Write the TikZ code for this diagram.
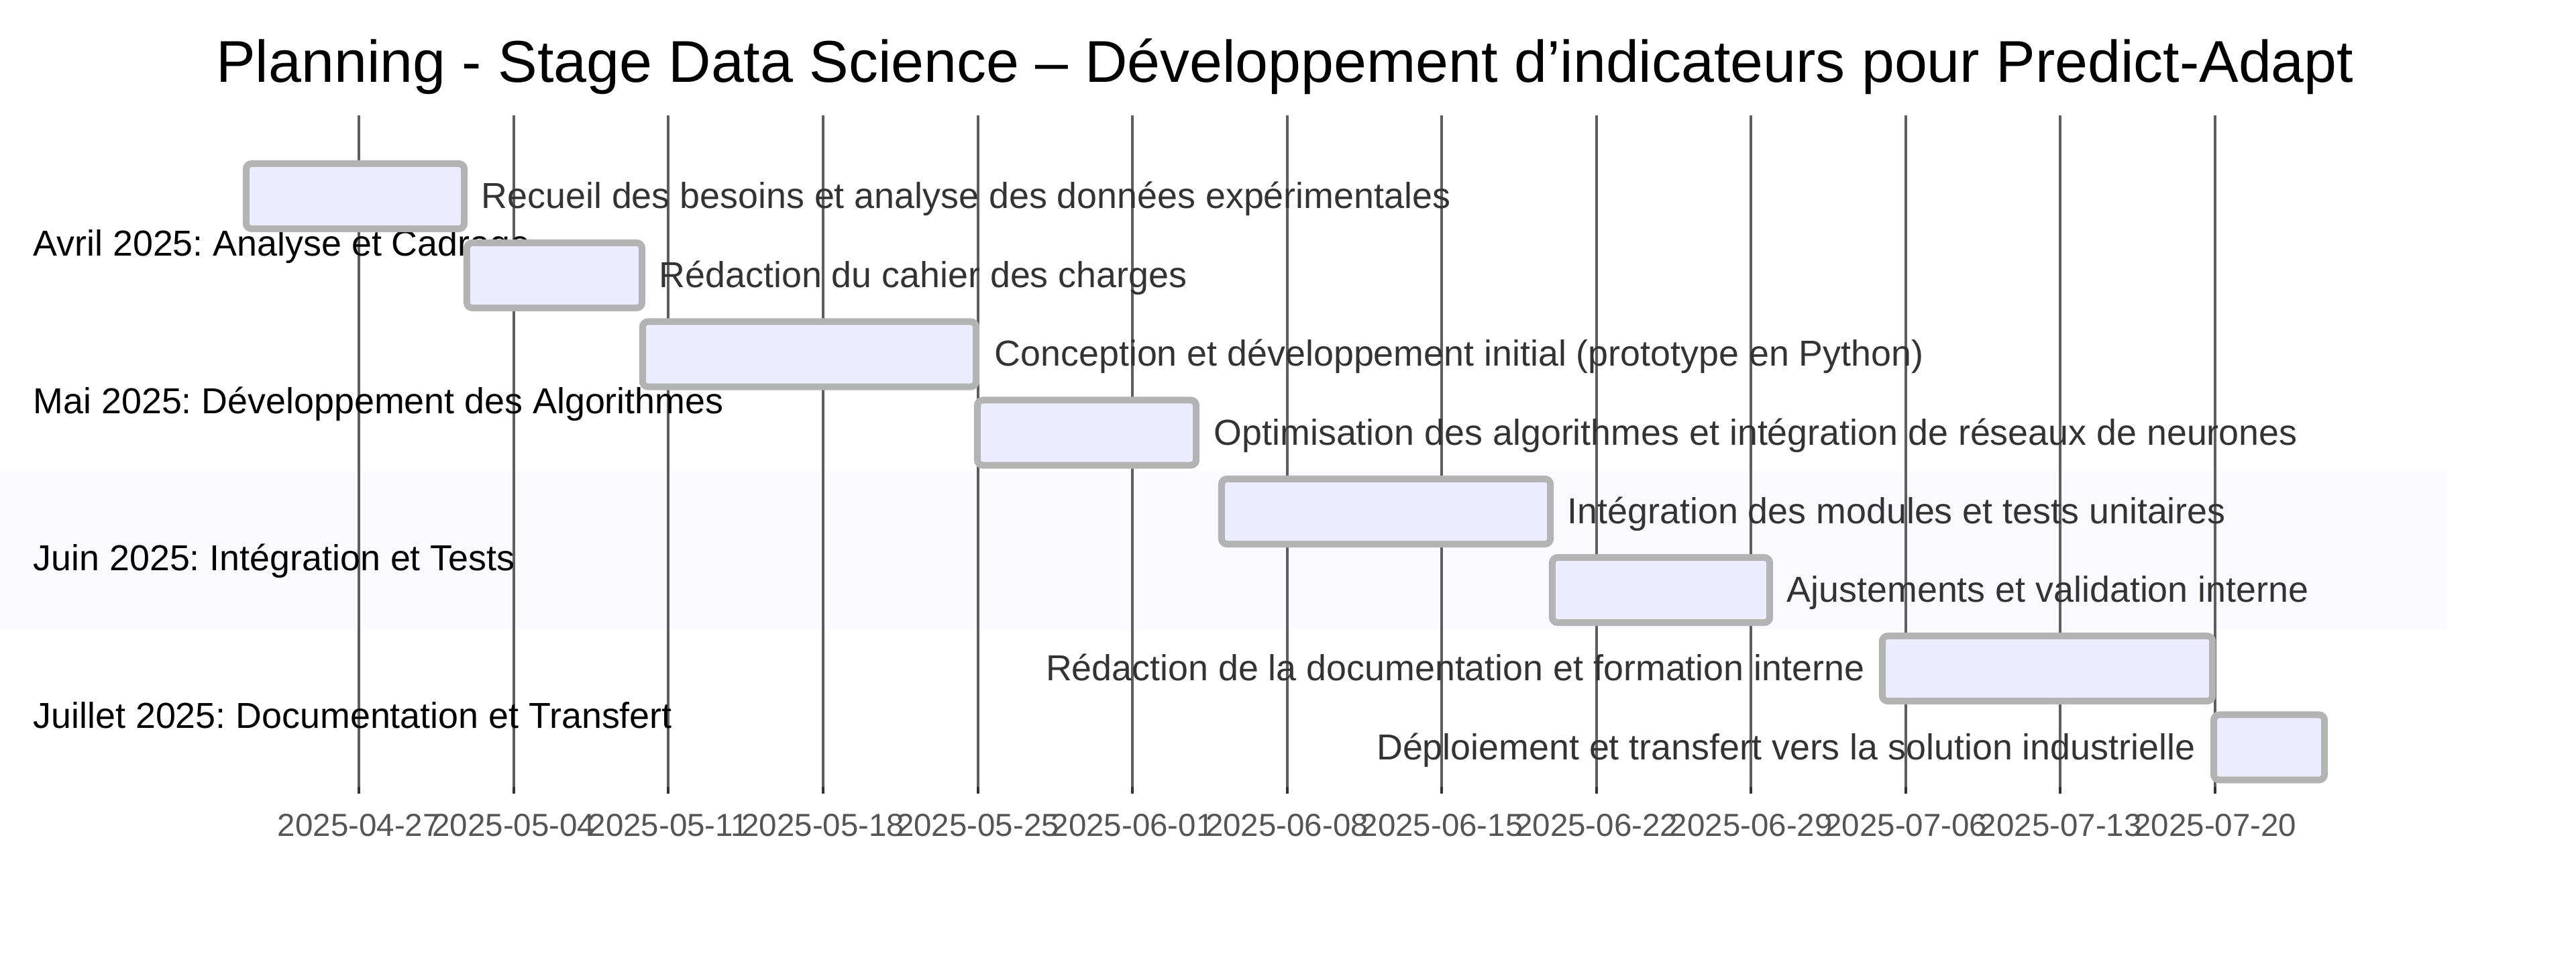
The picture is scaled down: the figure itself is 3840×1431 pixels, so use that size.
\documentclass[tikz,border=0pt]{standalone}
\usepackage{fontspec}
\setmainfont{Liberation Sans}
\frenchspacing
\definecolor{barfill}{HTML}{ECECFF}
\definecolor{barline}{HTML}{B3B3B3}
\definecolor{tasktext}{HTML}{333333}
\definecolor{axistext}{HTML}{555555}
\definecolor{gridc}{HTML}{5E5E5E}
\definecolor{tickc}{HTML}{333333}
\definecolor{bandc}{HTML}{F9F9FF}
\begin{document}
\frenchspacing
\begin{tikzpicture}[x=0.01cm,y=-0.01cm,
  taskbar/.style={draw=barline, fill=barfill, line width=0.1cm, rounded corners=0.08cm, minimum height=0.97cm, inner sep=0pt, outer sep=0pt},
  tasklabel/.style={text=tasktext, font=\fontsize{15.3pt}{18pt}\selectfont, inner sep=0pt},
  seclabel/.style={text=black, font=\fontsize{15.3pt}{18pt}\selectfont, anchor=base west, inner sep=0pt},
  ticklabel/.style={text=axistext, font=\fontsize{13.5pt}{16pt}\selectfont, anchor=base, inner sep=0pt},
  charttitle/.style={text=black, font=\fontsize{25.0pt}{30pt}\selectfont, anchor=base, inner sep=0pt},
  gridline/.style={draw=gridc, line width=0.04cm},
  tickmark/.style={draw=tickc, line width=0.04cm}]
\useasboundingbox (0,0) rectangle (3840,1431);
\fill[white] (0,0) rectangle (3840,1431);
% section band
\fill[bandc] (0,703) rectangle (3648,938);
% grid
\foreach \k/\d in {0/2025-04-27,1/2025-05-04,2/2025-05-11,3/2025-05-18,4/2025-05-25,5/2025-06-01,6/2025-06-08,7/2025-06-15,8/2025-06-22,9/2025-06-29,10/2025-07-06,11/2025-07-13,12/2025-07-20}{
  \pgfmathsetmacro{\gx}{535.3+230.55*\k}
  \draw[gridline] (\gx,172) -- (\gx,1173);
  \draw[tickmark] (\gx,1173) -- (\gx,1183);
  \node[ticklabel] (tick\k) at (\gx,1246) {\d};
}
% title
\node[charttitle] (title) at (1915.5,123) {Planning - Stage Data Science – Développement d’indicateurs pour Predict-Adapt};
% sections
\node[seclabel] (s1) at (49,381.7) {Avril 2025: Analyse et Cadrage};
\node[seclabel] (s2) at (49,616.4) {Mai 2025: Développement des Algorithmes};
\node[seclabel] (s3) at (49,850.5) {Juin 2025: Intégration et Tests};
\node[seclabel] (s4) at (49,1085.5) {Juillet 2025: Documentation et Transfert};
% bars
\node[taskbar, minimum width=3.25cm] (b1) at (529.5,292.5) {};
\node[taskbar, minimum width=2.61cm] (b2) at (826.5,410.5) {};
\node[taskbar, minimum width=4.97cm] (b3) at (1206.5,528) {};
\node[taskbar, minimum width=3.26cm] (b4) at (1620,645) {};
\node[taskbar, minimum width=4.90cm] (b5) at (2066,762.5) {};
\node[taskbar, minimum width=3.24cm] (b6) at (2476,879.5) {};
\node[taskbar, minimum width=4.92cm] (b7) at (3052,996.5) {};
\node[taskbar, minimum width=1.65cm] (b8) at (3382.5,1114) {};
% task labels
\node[tasklabel, anchor=base west] (t1) at (717,310.5) {Recueil des besoins et analyse des données expérimentales};
\node[tasklabel, anchor=base west] (t2) at (982,428.5) {Rédaction du cahier des charges};
\node[tasklabel, anchor=base west] (t3) at (1482,546) {Conception et développement initial (prototype en Python)};
\node[tasklabel, anchor=base west] (t4) at (1809,663) {Optimisation des algorithmes et intégration de réseaux de neurones};
\node[tasklabel, anchor=base west] (t5) at (2336,780.5) {Intégration des modules et tests unitaires};
\node[tasklabel, anchor=base west] (t6) at (2663,897.5) {Ajustements et validation interne};
\node[tasklabel, anchor=base east] (t7) at (2780,1014.5) {Rédaction de la documentation et formation interne};
\node[tasklabel, anchor=base east] (t8) at (3273,1132) {Déploiement et transfert vers la solution industrielle};
\end{tikzpicture}
\end{document}
